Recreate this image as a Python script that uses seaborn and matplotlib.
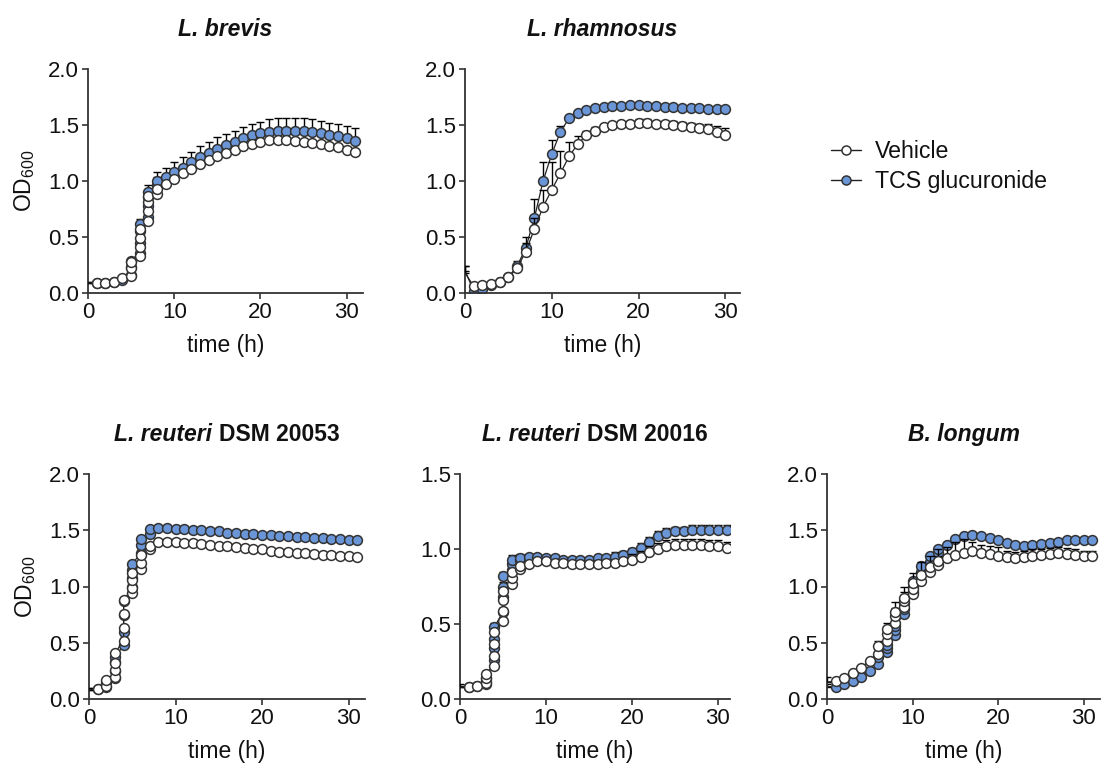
import numpy as np
import pandas as pd
import matplotlib
matplotlib.use("Agg")
import matplotlib.pyplot as plt
import seaborn as sns
from matplotlib.lines import Line2D
from matplotlib.offsetbox import TextArea, HPacker, AnchoredOffsetbox

# ---------------- data ----------------
brevis_t = [0, 1, 2, 3, 4, 5, 5, 5, 6, 6, 6, 6, 7, 7, 7, 7, 8, 8] + list(range(9, 32))
brevis_veh = [0.09, 0.09, 0.09, 0.10, 0.13, 0.15, 0.22, 0.28, 0.33, 0.41, 0.49, 0.57,
              0.64, 0.73, 0.81, 0.87, 0.88, 0.93,
              0.97, 1.02, 1.07, 1.11, 1.15, 1.19, 1.22, 1.25, 1.28, 1.31, 1.33, 1.35,
              1.37, 1.37, 1.37, 1.36, 1.35, 1.34, 1.33, 1.31, 1.30, 1.28, 1.26]
brevis_veh_err = [0.01] * 18 + [0.02] * 23
brevis_tcs = [0.09, 0.09, 0.09, 0.10, 0.12, 0.16, 0.23, 0.29, 0.36, 0.45, 0.55, 0.62,
              0.68, 0.78, 0.86, 0.90, 0.96, 1.00,
              1.04, 1.08, 1.12, 1.17, 1.21, 1.25, 1.29, 1.32, 1.35, 1.38, 1.41, 1.43,
              1.44, 1.45, 1.45, 1.45, 1.45, 1.44, 1.43, 1.41, 1.40, 1.38, 1.36]
brevis_tcs_err = [0.01, 0.01, 0.01, 0.01, 0.01, 0.02, 0.02, 0.02, 0.03, 0.03, 0.04, 0.04,
                  0.04, 0.05, 0.06, 0.06, 0.08, 0.08,
                  0.08, 0.09, 0.09, 0.09, 0.10, 0.10, 0.10, 0.10, 0.10, 0.10, 0.10, 0.10,
                  0.11, 0.11, 0.11, 0.11, 0.11, 0.11, 0.11, 0.11, 0.11, 0.11, 0.11]

rhamn_t = list(range(0, 31))
rhamn_veh = [0.18, 0.06, 0.07, 0.08, 0.10, 0.14, 0.22, 0.37, 0.57, 0.77, 0.92, 1.07, 1.22,
             1.33, 1.41, 1.45, 1.48, 1.50, 1.51, 1.51, 1.52, 1.52, 1.51, 1.51, 1.50, 1.49,
             1.48, 1.47, 1.46, 1.44, 1.41]
rhamn_veh_err = [0.06, 0.01, 0.01, 0.01, 0.01, 0.01, 0.03, 0.08, 0.10, 0.15, 0.25, 0.20,
                 0.13, 0.07, 0.04, 0.03, 0.03, 0.03, 0.03, 0.03, 0.03, 0.03, 0.03, 0.03,
                 0.04, 0.04, 0.04, 0.04, 0.05, 0.05, 0.06]
rhamn_tcs = [0.20, 0.02, 0.04, 0.07, 0.10, 0.14, 0.24, 0.40, 0.67, 1.00, 1.24, 1.44, 1.56,
             1.61, 1.63, 1.65, 1.66, 1.67, 1.67, 1.68, 1.68, 1.67, 1.67, 1.66, 1.66, 1.65,
             1.65, 1.65, 1.64, 1.64, 1.64]
rhamn_tcs_err = [0.04, 0.01, 0.01, 0.01, 0.01, 0.01, 0.05, 0.10, 0.17, 0.17, 0.13, 0.05,
                 0.02, 0.01, 0.01, 0.01, 0.01, 0.01, 0.01, 0.01, 0.01, 0.01, 0.01, 0.01,
                 0.01, 0.02, 0.02, 0.02, 0.02, 0.02, 0.02]

reu53_t = [0, 1, 2, 2, 3, 3, 3, 3, 4, 4, 4, 4, 5, 5, 5, 5, 6, 6, 6, 7, 7, 8] + list(range(9, 32))
reu53_veh = [0.08, 0.09, 0.12, 0.17, 0.20, 0.26, 0.32, 0.41, 0.52, 0.63, 0.76, 0.88,
             0.94, 0.99, 1.06, 1.12, 1.16, 1.21, 1.28, 1.33, 1.36, 1.40,
             1.40, 1.40, 1.39, 1.39, 1.38, 1.37, 1.36, 1.36, 1.35, 1.34, 1.33, 1.33,
             1.32, 1.31, 1.31, 1.30, 1.30, 1.29, 1.28, 1.28, 1.27, 1.27, 1.26]
reu53_veh_err = [0.02] * 45
reu53_tcs = [0.08, 0.09, 0.11, 0.15, 0.19, 0.25, 0.33, 0.37, 0.48, 0.60, 0.75, 0.87,
             1.00, 1.08, 1.15, 1.20, 1.30, 1.37, 1.42, 1.47, 1.51, 1.52,
             1.52, 1.51, 1.51, 1.50, 1.50, 1.49, 1.49, 1.48, 1.48, 1.47, 1.47, 1.46,
             1.46, 1.45, 1.45, 1.44, 1.44, 1.43, 1.43, 1.42, 1.42, 1.41, 1.41]
reu53_tcs_err = [0.02] * 45

reu16_t = [0, 1, 2, 3, 3, 3, 4, 4, 4, 4, 5, 5, 5, 5, 6, 6, 6, 7, 7] + list(range(8, 32))
reu16_veh = [0.08, 0.08, 0.09, 0.11, 0.14, 0.17, 0.22, 0.29, 0.37, 0.45, 0.52, 0.59,
             0.66, 0.72, 0.77, 0.81, 0.85, 0.87, 0.89,
             0.90, 0.92, 0.92, 0.91, 0.91, 0.90, 0.90, 0.90, 0.90, 0.91, 0.91, 0.92,
             0.93, 0.95, 0.98, 1.00, 1.02, 1.03, 1.03, 1.03, 1.03, 1.02, 1.02, 1.01]
reu16_veh_err = [0.02] * 19 + [0.02] * 12 + [0.04] * 12
reu16_tcs = [0.08, 0.08, 0.09, 0.10, 0.12, 0.14, 0.26, 0.34, 0.40, 0.48, 0.58, 0.68,
             0.75, 0.82, 0.86, 0.90, 0.93, 0.93, 0.94,
             0.95, 0.95, 0.94, 0.94, 0.93, 0.93, 0.93, 0.93, 0.94, 0.94, 0.95, 0.96,
             0.98, 1.01, 1.05, 1.09, 1.11, 1.12, 1.12, 1.13, 1.13, 1.13, 1.13, 1.13]
reu16_tcs_err = [0.01] * 6 + [0.03] * 13 + [0.02] * 10 + [0.03] * 14

blong_t = [0, 1, 2, 3, 4, 5, 6, 6, 7, 7, 7, 8, 8, 8, 9, 9, 9, 10, 10, 10, 11, 11,
           12, 12, 13, 13] + list(range(14, 32))
blong_veh = [0.15, 0.16, 0.19, 0.23, 0.28, 0.34, 0.40, 0.47, 0.52, 0.58, 0.62, 0.68,
             0.74, 0.77, 0.82, 0.87, 0.90, 0.93, 0.98, 1.03, 1.05, 1.10, 1.13, 1.17,
             1.19, 1.23,
             1.25, 1.28, 1.30, 1.32, 1.30, 1.29, 1.27, 1.26, 1.25, 1.26, 1.27, 1.28,
             1.29, 1.30, 1.29, 1.28, 1.27, 1.27]
blong_veh_err = [0.05, 0.01, 0.01, 0.01, 0.01, 0.02, 0.03, 0.05, 0.04, 0.05, 0.06, 0.05,
                 0.07, 0.09, 0.06, 0.08, 0.10, 0.06, 0.08, 0.09, 0.08, 0.12, 0.08, 0.10,
                 0.08, 0.10,
                 0.10, 0.12, 0.12, 0.08, 0.07, 0.07, 0.08, 0.06, 0.06, 0.06, 0.06, 0.05,
                 0.05, 0.05, 0.05, 0.05, 0.05, 0.05]
blong_tcs = [0.11, 0.11, 0.13, 0.16, 0.20, 0.25, 0.31, 0.37, 0.42, 0.45, 0.48, 0.57,
             0.61, 0.65, 0.76, 0.80, 0.85, 0.95, 1.00, 1.05, 1.13, 1.18, 1.22, 1.27,
             1.30, 1.33,
             1.37, 1.42, 1.45, 1.46, 1.45, 1.43, 1.41, 1.39, 1.37, 1.36, 1.37, 1.38,
             1.39, 1.40, 1.41, 1.41, 1.41, 1.41]
blong_tcs_err = [0.02] * 44

titles_italic = ["L. brevis", "L. rhamnosus", "L. reuteri", "L. reuteri", "B. longum"]
titles_plain = ["", "", "DSM 20053", "DSM 20016", ""]
series_labels = ["Vehicle", "TCS glucuronide"]
y_max = [2.0, 2.0, 2.0, 1.5, 2.0]
x_ticks = [0, 10, 20, 30]
x_label = "time (h)"
y_label = "OD$_{600}$"

# ---------------- style ----------------
sns.set_theme(style="ticks")
plt.rcParams['font.family'] = ['Liberation Sans', 'DejaVu Sans']
plt.rcParams['mathtext.fontset'] = 'custom'
plt.rcParams['mathtext.rm'] = 'Liberation Sans'
plt.rcParams['mathtext.it'] = 'Liberation Sans:italic'
plt.rcParams['mathtext.bf'] = 'Liberation Sans:bold'

TXT = "#111111"
AX = "#333333"
BLUE = "#6a96d8"
VEH_FACE = "#ffffff"
EDGE = "#333333"
TICK_FS = 16
LABEL_FS = 16.5
TITLE_FS = 16.5
LEG_FS = 16.7

fig = plt.figure(figsize=(11.02, 7.65), dpi=100)
W, H = 1102, 765
rects = [(88, 69, 363, 293), (465, 69, 740, 293),
         (89, 474, 365, 699), (460, 474, 730, 699), (827, 474, 1100, 699)]
xmax = [31.9, 31.7, 31.9, 31.4, 31.9]

panels = [
    (brevis_t, brevis_veh, brevis_veh_err, brevis_tcs, brevis_tcs_err),
    (rhamn_t, rhamn_veh, rhamn_veh_err, rhamn_tcs, rhamn_tcs_err),
    (reu53_t, reu53_veh, reu53_veh_err, reu53_tcs, reu53_tcs_err),
    (reu16_t, reu16_veh, reu16_veh_err, reu16_tcs, reu16_tcs_err),
    (blong_t, blong_veh, blong_veh_err, blong_tcs, blong_tcs_err),
]

for i, ((t, veh, veh_e, tcs, tcs_e), (l, tp, r, b)) in enumerate(zip(panels, rects)):
    ax = fig.add_axes([l / W, 1 - b / H, (r - l) / W, (b - tp) / H])
    df = pd.DataFrame({"t": t, "veh": veh, "veh_e": veh_e, "tcs": tcs, "tcs_e": tcs_e})
    dm = df[df["t"] > 0]
    for col, ecol, face, z in [("tcs", "tcs_e", BLUE, 2), ("veh", "veh_e", VEH_FACE, 4)]:
        ax.errorbar(df["t"], df[col], yerr=[np.zeros(len(df)), df[ecol]], fmt='none',
                    ecolor='black', elinewidth=1.0, capsize=3.2, capthick=1.0, zorder=z)
        sns.lineplot(data=df, x="t", y=col, estimator=None, sort=False, ax=ax,
                     color="#222222", linewidth=0.9, zorder=z + 0.1)
        sns.scatterplot(data=dm, x="t", y=col, ax=ax, s=50, color=face, edgecolor=EDGE,
                        linewidth=1.1, zorder=z + 0.2)
    ax.set_xlim(0, xmax[i])
    ax.set_ylim(0, y_max[i])
    ax.set_xticks(x_ticks)
    yt = np.arange(0, y_max[i] + 0.01, 0.5)
    ax.set_yticks(yt)
    ax.set_yticklabels([f"{v:.1f}" for v in yt])
    ax.tick_params(axis='both', labelsize=TICK_FS, length=4.5, width=1.2, color=AX,
                   labelcolor=TXT, pad=2)
    for s in ["left", "bottom"]:
        ax.spines[s].set_linewidth(1.3)
        ax.spines[s].set_color(AX)
    sns.despine(ax=ax)
    ax.set_xlabel(x_label, fontsize=LABEL_FS, color=TXT, labelpad=8)
    if i in (0, 2):
        ax.set_ylabel(y_label, fontsize=LABEL_FS, color=TXT, labelpad=8)
    else:
        ax.set_ylabel("")
    parts = [TextArea(titles_italic[i], textprops=dict(fontsize=TITLE_FS, fontweight='bold',
                                                       style='italic', color=TXT))]
    if titles_plain[i]:
        parts.append(TextArea(titles_plain[i], textprops=dict(fontsize=TITLE_FS,
                                                              fontweight='bold', color=TXT)))
    box = HPacker(children=parts, align='baseline', pad=0, sep=5)
    anch = AnchoredOffsetbox(loc='lower center', child=box, pad=0, borderpad=0,
                             frameon=False, bbox_to_anchor=(0.5, 1.0 + 28 / (b - tp)),
                             bbox_transform=ax.transAxes)
    ax.add_artist(anch)

handles = [
    Line2D([0], [0], color="#222222", lw=1.0, marker='o', ms=6.5, mfc=VEH_FACE,
           mec=EDGE, mew=1.1),
    Line2D([0], [0], color="#222222", lw=1.0, marker='o', ms=6.5, mfc=BLUE,
           mec=EDGE, mew=1.1),
]
leg = fig.legend(handles, series_labels, loc='center left', bbox_to_anchor=(0.735, 0.782),
                 frameon=False, fontsize=LEG_FS, handlelength=1.3, handletextpad=0.6,
                 labelspacing=0.3)
for txt in leg.get_texts():
    txt.set_color(TXT)

fig.savefig("out.png", dpi=100)
